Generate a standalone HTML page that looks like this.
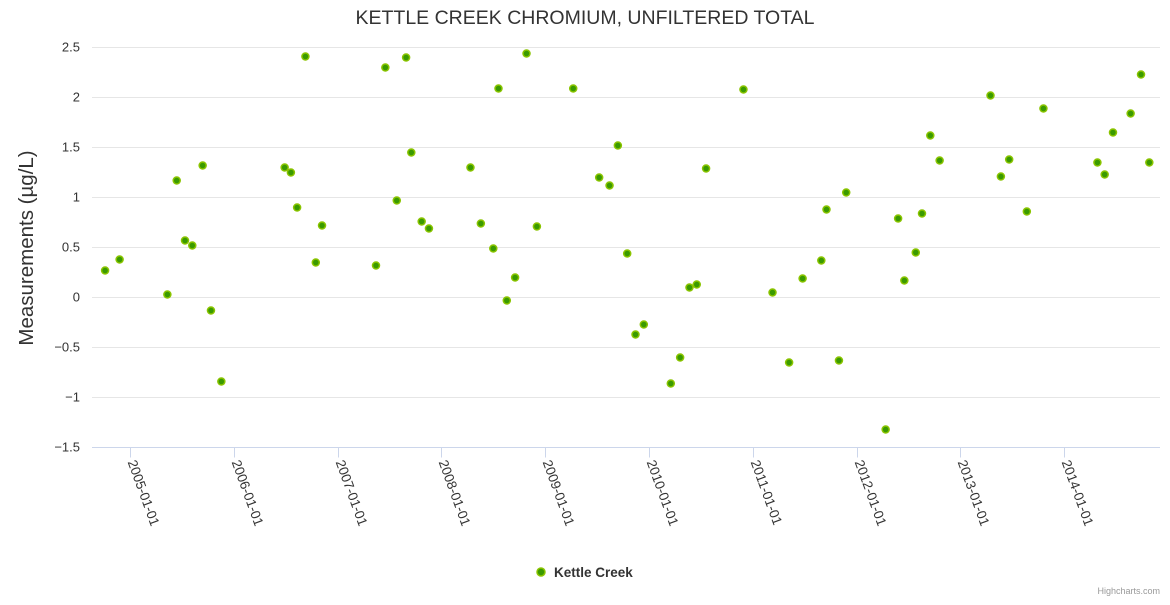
<!DOCTYPE html>
<html><head><meta charset="utf-8"><style>
body{margin:0;background:#fff;}
svg{font-family:"Liberation Sans",sans-serif;}
</style></head><body>
<svg id="chart" width="1170" height="600">
<rect width="1170" height="600" fill="#fff"/>
<text x="585" y="24" text-anchor="middle" font-size="19.5" fill="#333">KETTLE CREEK CHROMIUM, UNFILTERED TOTAL</text>
<text transform="translate(33,248) rotate(-90)" text-anchor="middle" font-size="20.5" fill="#333">Measurements (µg/L)</text>
<g id="grid"></g><g id="yt"></g><g id="xt"></g><g id="pts"></g>
<g>
<circle cx="541" cy="572" r="4" fill="#3a9a00" stroke="#8ac400" stroke-width="1.5"/>
<text x="554" y="577" font-size="13.5" font-weight="bold" fill="#333">Kettle Creek</text>
</g>
<text x="1160" y="594" text-anchor="end" font-size="9" fill="#999">Highcharts.com</text>
</svg>
<script>
const yTicks=[2.5,2,1.5,1,0.5,0,-0.5,-1,-1.5];
const xTickYears=[2005,2006,2007,2008,2009,2010,2011,2012,2013,2014];
const xTickLabels=["2005-01-01","2006-01-01","2007-01-01","2008-01-01","2009-01-01","2010-01-01","2011-01-01","2012-01-01","2013-01-01","2014-01-01"];
const dates=[2004.76,2004.90,2005.36,2005.45,2005.53,2005.60,2005.70,2005.78,2005.88,2006.49,2006.55,2006.61,2006.69,2006.79,2006.85,2007.37,2007.46,2007.57,2007.66,2007.71,2007.81,2007.88,2008.28,2008.38,2008.50,2008.55,2008.63,2008.71,2008.82,2008.92,2009.27,2009.52,2009.62,2009.70,2009.79,2009.87,2009.95,2010.21,2010.30,2010.39,2010.46,2010.55,2010.91,2011.19,2011.35,2011.48,2011.66,2011.71,2011.83,2011.90,2012.28,2012.40,2012.46,2012.57,2012.63,2012.71,2012.80,2013.29,2013.39,2013.47,2013.64,2013.80,2014.32,2014.39,2014.47,2014.64,2014.74,2014.82];
const values=[0.27,0.38,0.03,1.17,0.57,0.52,1.32,-0.13,-0.84,1.30,1.25,0.90,2.41,0.35,0.72,0.32,2.30,0.97,2.40,1.45,0.76,0.69,1.30,0.74,0.49,2.09,-0.03,0.20,2.44,0.71,2.09,1.20,1.12,1.52,0.44,-0.37,-0.27,-0.86,-0.60,0.10,0.13,1.29,2.08,0.05,-0.65,0.19,0.37,0.88,-0.63,1.05,-1.32,0.79,0.17,0.45,0.84,1.62,1.37,2.02,1.21,1.38,0.86,1.89,1.35,1.23,1.65,1.84,2.23,1.35];
const NS="http://www.w3.org/2000/svg";
const L=92,R=1160;
const yS=v=>297.5-v*100;
const xS=t=>130+(t-2005)*103.8;
function mk(tag,attrs,parent){const e=document.createElementNS(NS,tag);for(const k in attrs)e.setAttribute(k,attrs[k]);document.getElementById(parent).appendChild(e);return e;}
yTicks.forEach(v=>{
  const y=yS(v);
  if(v>-1.5){const g=mk('line',{x1:L,x2:R,y1:y,y2:y,stroke:'#e6e6e6','stroke-width':1},'grid');
  
  }
  const t=mk('text',{x:80,y:y+4,'text-anchor':'end','font-size':13,fill:'#333'},'yt');
  t.textContent=(v<0?'−'+Math.abs(v):String(v));
  
  
});
const ax=mk('line',{x1:L,x2:R,y1:447.5,y2:447.5,stroke:'#ccd6eb','stroke-width':1},'grid');


xTickYears.forEach((yr,i)=>{
  const x=Math.round(xS(yr))+0.5;
  const tk=mk('line',{x1:x,x2:x,y1:447.5,y2:457.5,stroke:'#ccd6eb'},'xt');
  
  
  const t=mk('text',{transform:`translate(${x-3},462) rotate(70)`,'font-size':13.5,fill:'#333'},'xt');
  t.textContent=xTickLabels[i];
  
  
});
dates.forEach((d,i)=>{
  const c=mk('circle',{cx:xS(d),cy:yS(values[i]),r:3.5,fill:'#3a9a00',stroke:'#8ac400','stroke-width':1.5},'pts');
  
  
});
</script>
</body></html>
